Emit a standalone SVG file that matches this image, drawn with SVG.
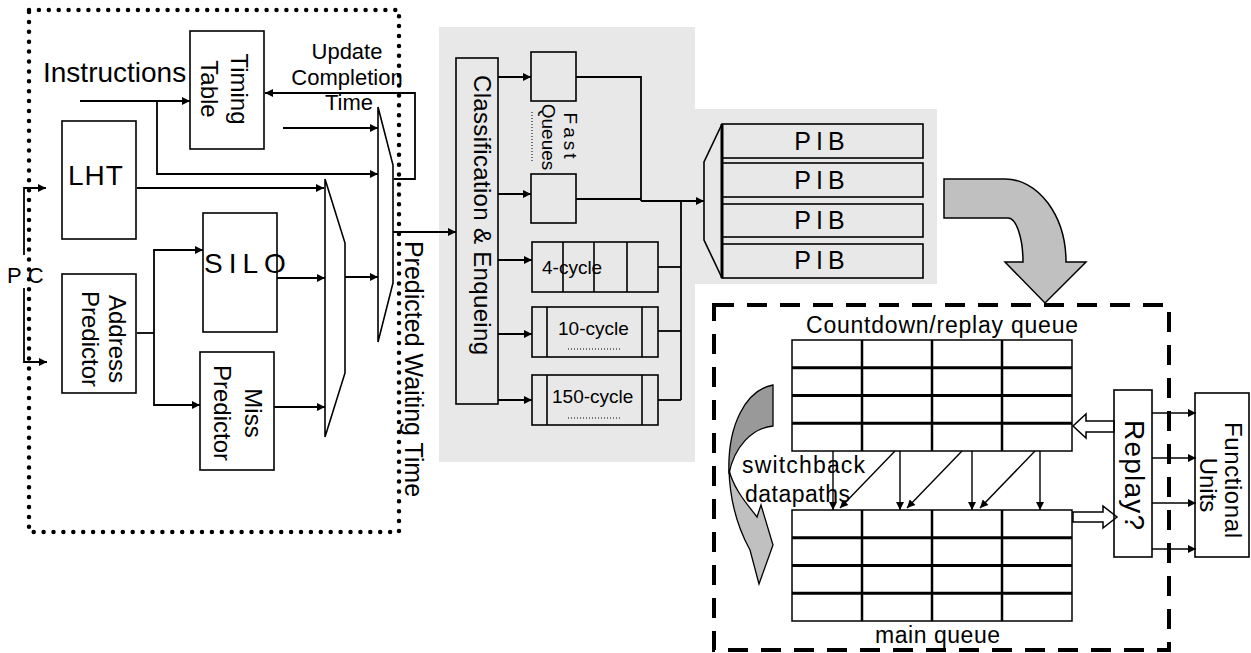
<svg xmlns="http://www.w3.org/2000/svg" width="1251" height="653" viewBox="0 0 1251 653">
<defs>
<style>
text{font-family:"Liberation Sans",Arial,sans-serif;fill:#000}
.box{fill:none;stroke:#000;stroke-width:1.6}
.ln{fill:none;stroke:#000;stroke-width:1.8}
.arr{fill:none;stroke:#000;stroke-width:1.8;marker-end:url(#ah)}
.arr2{fill:none;stroke:#000;stroke-width:1.4;marker-end:url(#ah2)}
.dotline{fill:none;stroke:#000;stroke-width:1;stroke-dasharray:1 2}
</style>
<marker id="ah" viewBox="0 0 10 10" refX="10" refY="5" markerWidth="10" markerHeight="8" markerUnits="userSpaceOnUse" orient="auto"><path d="M0,0 L10,5 L0,10 z" fill="#000"/></marker>
<marker id="ah2" viewBox="0 0 10 10" refX="10" refY="5" markerWidth="9" markerHeight="8" markerUnits="userSpaceOnUse" orient="auto"><path d="M0,0 L10,5 L0,10 z" fill="#000"/></marker>
</defs>
<rect width="1251" height="653" fill="#fff"/>
<path d="M439,27 H695 V109 H937 V284 H695 V462 H439 Z" fill="#e8e8e8"/>
<rect x="29" y="10" width="370" height="522" fill="none" stroke="#000" stroke-width="4.5" stroke-linecap="round" stroke-dasharray="0 9.9"/>
<rect x="714" y="305" width="455" height="345" fill="none" stroke="#000" stroke-width="4" stroke-dasharray="20 13"/>

<g id="connectors">
<path class="arr" d="M80,101 H190"/>
<path class="arr" d="M157,101 V174 H378"/>
<path class="arr" d="M283,128 H378"/>
<path class="arr" d="M137,188 H324"/>
<path class="arr" d="M394,179 H415 V93 H265"/>
<path class="arr" d="M24,255 V188 H46"/>
<path class="arr" d="M24,288 V362 H47"/>
<path class="ln" d="M137,333 H154"/>
<path class="arr" d="M154,333 V250 H203"/>
<path class="arr" d="M154,333 V405 H200"/>
<path class="arr" d="M277,278 H325"/>
<path class="arr" d="M274,407 H325"/>
<path class="arr" d="M345,277 H378"/>
<path class="arr" d="M393,232 H456"/>
<path class="arr" d="M498,77 H531"/>
<path class="arr" d="M498,194 H531"/>
<path class="arr" d="M498,260 H532"/>
<path class="arr" d="M498,334 H532"/>
<path class="arr" d="M498,400 H532"/>
<path class="ln" d="M576,77 H641 V201"/>
<path class="ln" d="M576,199 H641"/>
<path class="arr" d="M641,201 H704"/>
<path class="ln" d="M681,201 V400"/>
<path class="ln" d="M658,267 H681"/>
<path class="ln" d="M658,331 H681"/>
<path class="ln" d="M658,400 H681"/>
<path class="arr2" d="M833,451 V510"/>
<path class="arr2" d="M900,451 V510"/>
<path class="arr2" d="M972,451 V510"/>
<path class="arr2" d="M1040,451 V510"/>
<path class="arr2" d="M895,451 L840,508"/>
<path class="arr2" d="M962,451 L907,508"/>
<path class="arr2" d="M1035,451 L980,508"/>
<path class="arr2" d="M1152,413 H1196"/>
<path class="arr2" d="M1152,458 H1196"/>
<path class="arr2" d="M1152,503 H1196"/>
<path class="arr2" d="M1152,549 H1196"/>
<path d="M1114,421 H1086 V414 L1073,426 L1086,438 V432 H1114 Z" fill="#fff" stroke="#000" stroke-width="1.5"/>
<path d="M1073,512 H1103 V506 L1117,517 L1103,528 V522 H1073 Z" fill="#fff" stroke="#000" stroke-width="1.5"/>
</g>

<g id="instructions-label">
<text x="43" y="82" font-size="28">Instructions</text>
</g>
<g id="timing-table">
<rect class="box" x="190" y="31" width="74" height="118"/>
<g transform="translate(227,89) rotate(90)">
<text x="0" y="-4" font-size="24" text-anchor="middle">Timing</text>
<text x="0" y="26" font-size="24" text-anchor="middle">Table</text>
</g>
</g>
<g id="update-label">
<text x="347" y="59" font-size="22" text-anchor="middle">Update</text>
<text x="347" y="85" font-size="22" text-anchor="middle">Completion</text>
<text x="349" y="110" font-size="22" text-anchor="middle">Time</text>
</g>
<g id="lht">
<rect class="box" x="62" y="121" width="74" height="118"/>
<text x="68" y="185" font-size="28" letter-spacing="1">LHT</text>
</g>
<g id="pc">
<text x="7" y="283" font-size="22" letter-spacing="6">PC</text>
</g>
<g id="silo">
<rect class="box" x="203" y="213" width="74" height="119"/>
<text x="204" y="273" font-size="28" letter-spacing="6">SILO</text>
</g>
<g id="address-predictor">
<rect class="box" x="62" y="274" width="74" height="119"/>
<g transform="translate(99,339) rotate(90)">
<text x="0" y="-10" font-size="24" text-anchor="middle">Address</text>
<text x="0" y="17" font-size="24" text-anchor="middle">Predictor</text>
</g>
</g>
<g id="miss-predictor">
<rect class="box" x="200" y="352" width="74" height="118"/>
<g transform="translate(237,413) rotate(90)">
<text x="0" y="-8" font-size="24" text-anchor="middle">Miss</text>
<text x="0" y="23" font-size="24" text-anchor="middle">Predictor</text>
</g>
</g>
<g id="mux-small">
<path class="box" d="M325,179 L345,243 V373 L325,437 Z"/>
</g>
<g id="mux-big">
<path class="box" d="M378,107 L393,165 V283 L378,342 Z"/>
</g>
<g id="predicted-label">
<text transform="translate(405,369) rotate(90)" x="0" y="0" font-size="25" text-anchor="middle">Predicted Waiting Time</text>
</g>
<g id="classification">
<rect class="box" x="456" y="58" width="42" height="346"/>
<text transform="translate(477,215) rotate(90)" x="0" y="3" font-size="24" text-anchor="middle" textLength="280" lengthAdjust="spacing">Classification &amp; Enqueing</text>
</g>
<g id="fast-queues">
<rect class="box" x="531" y="52" width="45" height="49"/>
<rect class="box" x="531" y="174" width="45" height="49"/>
<line class="dotline" x1="532" y1="112" x2="532" y2="162"/>
<g transform="translate(555,137) rotate(90)">
<text x="0" y="-9" font-size="19" text-anchor="middle" letter-spacing="3">Fast</text>
<text x="0" y="13" font-size="19" text-anchor="middle">Queues</text>
</g>
</g>
<g id="q4">
<rect class="box" x="532" y="242" width="126" height="50"/>
<path class="box" d="M563,242 V292 M594,242 V292 M627,242 V292"/>
<text x="542" y="274" font-size="19">4-cycle</text>
</g>
<g id="q10">
<rect class="box" x="532" y="307" width="126" height="50"/>
<path class="box" d="M547,307 V357 M642,307 V357"/>
<text x="558" y="335" font-size="19">10-cycle</text>
<line class="dotline" x1="568" y1="349" x2="620" y2="349"/>
</g>
<g id="q150">
<rect class="box" x="532" y="375" width="126" height="50"/>
<path class="box" d="M547,375 V425 M642,375 V425"/>
<text x="552" y="403" font-size="19">150-cycle</text>
<line class="dotline" x1="568" y1="418" x2="620" y2="418"/>
</g>
<g id="pib-mux">
<path d="M722,124 L704,162 V240 L722,278" fill="none" stroke="#000" stroke-width="1.6"/>
<line x1="722" y1="124" x2="722" y2="278" stroke="#000" stroke-width="3"/>
</g>
<g id="pib">
<rect class="box" x="722" y="124" width="201" height="34" stroke-width="2"/>
<rect class="box" x="722" y="163" width="201" height="34" stroke-width="2"/>
<rect class="box" x="722" y="204" width="201" height="33" stroke-width="2"/>
<rect class="box" x="722" y="244" width="201" height="34" stroke-width="2"/>
<text x="822" y="150" font-size="25" text-anchor="middle" letter-spacing="5">PIB</text>
<text x="822" y="189" font-size="25" text-anchor="middle" letter-spacing="5">PIB</text>
<text x="822" y="229" font-size="25" text-anchor="middle" letter-spacing="5">PIB</text>
<text x="822" y="269" font-size="25" text-anchor="middle" letter-spacing="5">PIB</text>
</g>
<g id="big-arrow">
<path d="M944,179 H1005 A61,83 0 0 1 1066,262 H1086 L1045,303 L1005,262 H1023 A15,44 0 0 0 1008,218 H944 Z" fill="#c0c0c0" stroke="#000" stroke-width="1.5"/>
</g>
<g id="countdown-queue">
<rect x="792" y="340" width="280" height="111" fill="#fff" stroke="#000" stroke-width="1.5"/>
<path d="M792,367.75 H1072 M792,395.5 H1072 M792,423.25 H1072" stroke="#000" stroke-width="3"/>
<path d="M862,340 V451 M932,340 V451 M1002,340 V451" stroke="#000" stroke-width="2.5"/>
<text x="806" y="333" font-size="23" textLength="272" lengthAdjust="spacing">Countdown/replay queue</text>
</g>
<g id="main-queue">
<rect x="792" y="510" width="280" height="111" fill="#fff" stroke="#000" stroke-width="1.5"/>
<path d="M792,537.75 H1072 M792,565.5 H1072 M792,593.25 H1072" stroke="#000" stroke-width="3"/>
<path d="M862,510 V621 M932,510 V621 M1002,510 V621" stroke="#000" stroke-width="2.5"/>
<text x="875" y="643" font-size="23" textLength="125" lengthAdjust="spacing">main queue</text>
</g>
<g id="switchback">
<path d="M773,385 C746,390 727,425 729,474 C734,447 752,428 773,426 Z" fill="#999" stroke="#000" stroke-width="1.3"/>
<path d="M729,470 C730,505 739,530 750,550 L759,584 L773,545 L761,505 L757,517 C748,505 734,490 729,470 Z" fill="#c0c0c0" stroke="#000" stroke-width="1.3"/>
<text x="742" y="473" font-size="23" textLength="123" lengthAdjust="spacing">switchback</text>
<text x="745" y="502" font-size="23" textLength="105" lengthAdjust="spacing">datapaths</text>
</g>
<g id="replay">
<rect class="box" x="1114" y="390" width="38" height="167"/>
<text transform="translate(1133,475) rotate(90)" x="0" y="8" font-size="28" text-anchor="middle" textLength="110" lengthAdjust="spacing">Replay?</text>
</g>
<g id="functional-units">
<rect class="box" x="1195" y="393" width="54" height="164"/>
<g transform="translate(1222,480) rotate(90)">
<text x="0" y="-3" font-size="24" text-anchor="middle" textLength="116" lengthAdjust="spacing">Functional</text>
<text x="5" y="22" font-size="24" text-anchor="middle">Units</text>
</g>
</g>
</svg>
